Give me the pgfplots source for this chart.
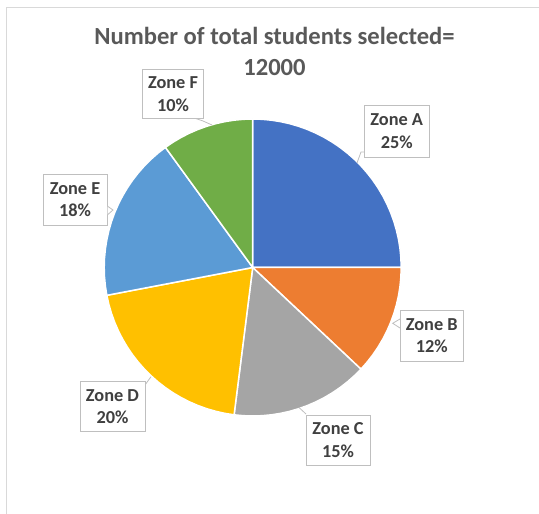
\documentclass[border=0pt]{standalone}
\usepackage{fontspec}
\setmainfont{Carlito}
\usepackage{pgfplots}
\pgfplotsset{compat=1.18}
\usepgfplotslibrary{polar}
\definecolor{cA}{HTML}{4472C4}
\definecolor{cB}{HTML}{ED7D31}
\definecolor{cC}{HTML}{A5A5A5}
\definecolor{cD}{HTML}{FFC000}
\definecolor{cE}{HTML}{5B9BD5}
\definecolor{cF}{HTML}{70AD47}
\definecolor{titlegray}{HTML}{595959}
\definecolor{labgray}{HTML}{404040}
\definecolor{boxgray}{HTML}{BFBFBF}
\definecolor{framegray}{HTML}{D9D9D9}
\begin{document}
\begin{tikzpicture}[x=1pt,y=1pt]
\path[use as bounding box] (0,0) rectangle (539,514);
\draw[framegray, line width=1pt] (6.2,0) -- (6.2,506.7) -- (539,506.7);
% pie: Zone A 25%, B 12%, C 15%, D 20%, E 18%, F 10% (clockwise from 12 o'clock)
\begin{polaraxis}[hide axis, scale only axis, width=297pt, height=297pt,
  xmin=0, xmax=360, ymin=0, ymax=1, clip=false,
  at={(252.7pt,246.5pt)}, anchor=center]
\addplot[fill=cA, draw=white, line width=1.5pt, line join=round] coordinates {(0,0) (90,1) (86.4,1) (82.8,1) (79.2,1) (75.6,1) (72,1) (68.4,1) (64.8,1) (61.2,1) (57.6,1) (54,1) (50.4,1) (46.8,1) (43.2,1) (39.6,1) (36,1) (32.4,1) (28.8,1) (25.2,1) (21.6,1) (18,1) (14.4,1) (10.8,1) (7.2,1) (3.6,1) (0,1)} -- cycle;
\addplot[fill=cB, draw=white, line width=1.5pt, line join=round] coordinates {(0,0) (0,1) (-3.6,1) (-7.2,1) (-10.8,1) (-14.4,1) (-18,1) (-21.6,1) (-25.2,1) (-28.8,1) (-32.4,1) (-36,1) (-39.6,1) (-43.2,1)} -- cycle;
\addplot[fill=cC, draw=white, line width=1.5pt, line join=round] coordinates {(0,0) (-43.2,1) (-46.8,1) (-50.4,1) (-54,1) (-57.6,1) (-61.2,1) (-64.8,1) (-68.4,1) (-72,1) (-75.6,1) (-79.2,1) (-82.8,1) (-86.4,1) (-90,1) (-93.6,1) (-97.2,1)} -- cycle;
\addplot[fill=cD, draw=white, line width=1.5pt, line join=round] coordinates {(0,0) (-97.2,1) (-100.8,1) (-104.4,1) (-108,1) (-111.6,1) (-115.2,1) (-118.8,1) (-122.4,1) (-126,1) (-129.6,1) (-133.2,1) (-136.8,1) (-140.4,1) (-144,1) (-147.6,1) (-151.2,1) (-154.8,1) (-158.4,1) (-162,1) (-165.6,1) (-169.2,1)} -- cycle;
\addplot[fill=cE, draw=white, line width=1.5pt, line join=round] coordinates {(0,0) (-169.2,1) (-172.8,1) (-176.4,1) (-180,1) (-183.6,1) (-187.2,1) (-190.8,1) (-194.4,1) (-198,1) (-201.6,1) (-205.2,1) (-208.8,1) (-212.4,1) (-216,1) (-219.6,1) (-223.2,1) (-226.8,1) (-230.4,1) (-234,1)} -- cycle;
\addplot[fill=cF, draw=white, line width=1.5pt, line join=round] coordinates {(0,0) (-234,1) (-237.6,1) (-241.2,1) (-244.8,1) (-248.4,1) (-252,1) (-255.6,1) (-259.2,1) (-262.8,1) (-266.4,1) (-270,1)} -- cycle;
\end{polaraxis}
% title
\node[text=titlegray, font=\bfseries\fontsize{24.6}{31}\selectfont, anchor=base, inner sep=0pt] at (274.5,469) {Number of total students selected=};
\node[text=titlegray, font=\bfseries\fontsize{24.6}{31}\selectfont, anchor=base, inner sep=0pt] at (274.5,438) {12000};
% leader lines
\draw[boxgray, line width=0.8pt] (357,351) -- (361,362) -- (364,362);
\draw[boxgray, line width=0.8pt] (195,395.7) -- (203,393) -- (212,389);
\draw[boxgray, line width=0.8pt] (145,129) -- (151,137.3);
\draw[boxgray, line width=0.8pt] (299,106.5) -- (306,100);
% labels
\tikzset{lab/.style={draw=boxgray, fill=white, line width=0.8pt, text=labgray, font=\bfseries\fontsize{18.3}{22.6}\selectfont, align=center, minimum width=64pt, minimum height=51pt, inner sep=0pt}}
\node[lab, minimum width=61pt, minimum height=49pt] at (173,420) {Zone F\\10\%};
\node[lab, minimum width=65pt, minimum height=52.7pt] at (396.7,382.7) {Zone A\\25\%};
\node[lab] at (75,314.5) {Zone E\\18\%};
\node[lab, minimum width=63pt] at (431.7,178.5) {Zone B\\12\%};
\node[lab, minimum width=65pt, minimum height=50pt] at (112.5,107.3) {Zone D\\20\%};
\node[lab, minimum height=50pt] at (338,74) {Zone C\\15\%};
% notches
\fill[white] (107.5,299) -- (113,304) -- (107.5,308) -- cycle;
\draw[boxgray, line width=0.8pt] (107.3,299) -- (113,304) -- (107.3,308);
\fill[white] (399.8,186) -- (392.7,190.7) -- (399.8,195) -- cycle;
\draw[boxgray, line width=0.8pt] (400,186) -- (392.7,190.7) -- (400,195);
\end{tikzpicture}
\end{document}
